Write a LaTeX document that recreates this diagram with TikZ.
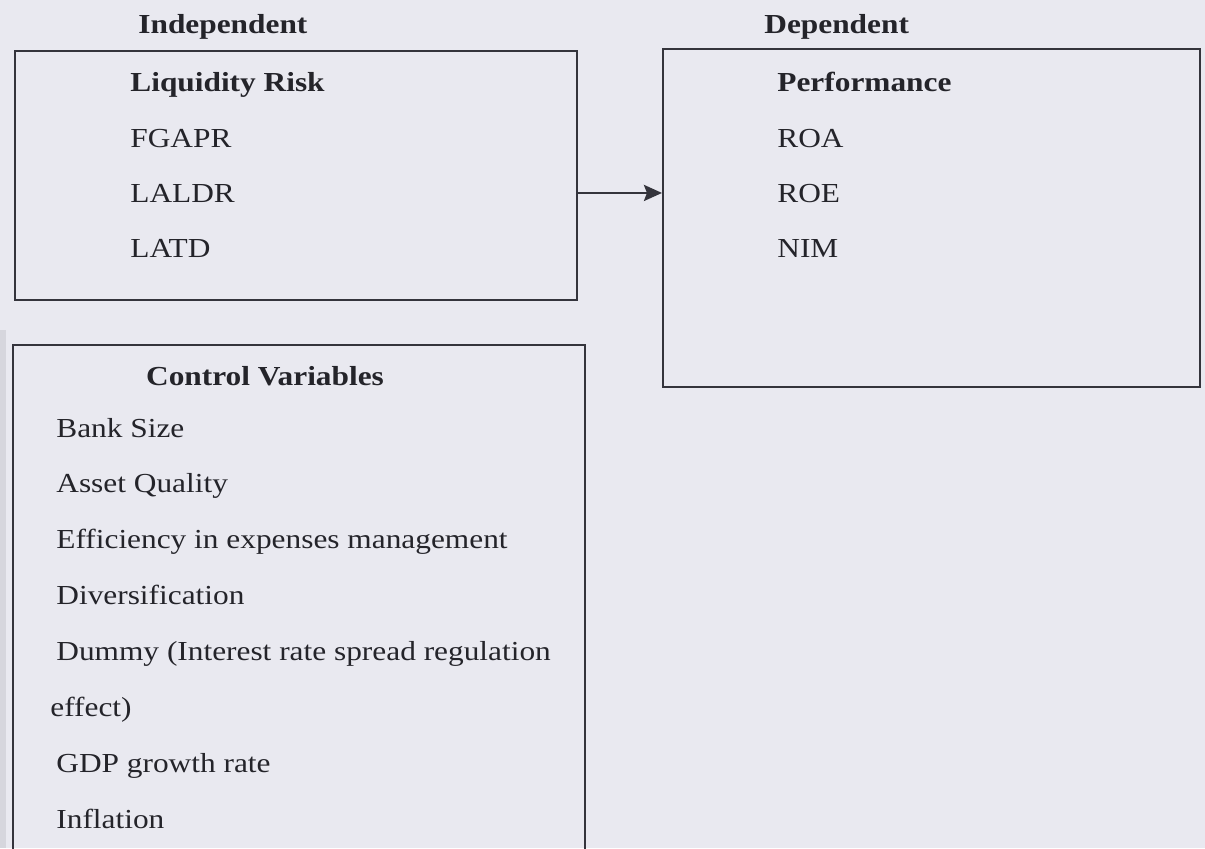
\documentclass[tikz,border=0pt]{standalone}
\usepackage{fontspec}
\setmainfont{Liberation Serif}[FakeStretch=1.14]
\usetikzlibrary{arrows.meta}
\definecolor{paper}{RGB}{233,233,240}
\definecolor{ink}{RGB}{36,36,42}
\definecolor{rule}{RGB}{52,52,60}

\begin{document}
\begin{tikzpicture}[x=0.5pt, y=-0.5pt,
  txt/.style={anchor=base west, inner sep=0pt, text=ink, font=\fontsize{13.75}{16}\selectfont},
  head/.style={txt, font=\fontsize{13.75}{16}\selectfont\bfseries},
  frame/.style={draw=rule, line width=1pt, inner sep=0pt},
  link/.style={draw=rule, line width=1.4pt, -{Stealth[length=9pt, width=8pt, inset=1.5pt]}}]

% page
\fill[paper] (0, 0) rectangle (1205, 848);
\useasboundingbox (0, 0) rectangle (1205, 848);
\fill[paper!92!black] (0, 330) rectangle (6, 848);

% independent
\node[head] (indeptitle) at (138, 33) {Independent};
\node[frame, minimum width=281pt, minimum height=124.5pt] (indep) at (296, 175.5) {};
\node[head] (liq) at (130, 91) {Liquidity Risk};
\node[txt] (fgapr) at (130, 147) {FGAPR};
\node[txt] (laldr) at (130, 202) {LALDR};
\node[txt] (latd) at (130, 257) {LATD};

% dependent
\node[head] (deptitle) at (764, 33) {Dependent};
\node[frame, minimum width=268.5pt, minimum height=169pt] (dep) at (931.5, 218) {};
\node[head] (perf) at (777, 91) {Performance};
\node[txt] (roa) at (777, 147) {ROA};
\node[txt] (roe) at (777, 202) {ROE};
\node[txt] (nim) at (777, 257) {NIM};

% link
\draw[link] (laldr.center -| indep.east) -- (laldr.center -| dep.west);

% control variables (box runs past the page bottom)
\coordinate (ctrlnw) at (13, 345);
\coordinate (ctrlne) at (585, 345);
\draw[rule, line width=1pt] (ctrlnw |- 0, 860) -- (ctrlnw) -- (ctrlne) -- (ctrlne |- 0, 860);
\node[head, anchor=base] (ctrl) at (265, 385) {Control Variables};
\foreach \item [count=\i] in {Bank Size, Asset Quality, Efficiency in expenses management, Diversification, Dummy (Interest rate spread regulation}
  \node[txt] (ctrl\i) at (56, 437 + 55.8*\i - 55.8) {\item};
\node[txt] (ctrl6) at (50, 716) {effect)};
\node[txt] (ctrl7) at (56, 772) {GDP growth rate};
\node[txt] (ctrl8) at (56, 828) {Inflation};

\end{tikzpicture}
\end{document}
